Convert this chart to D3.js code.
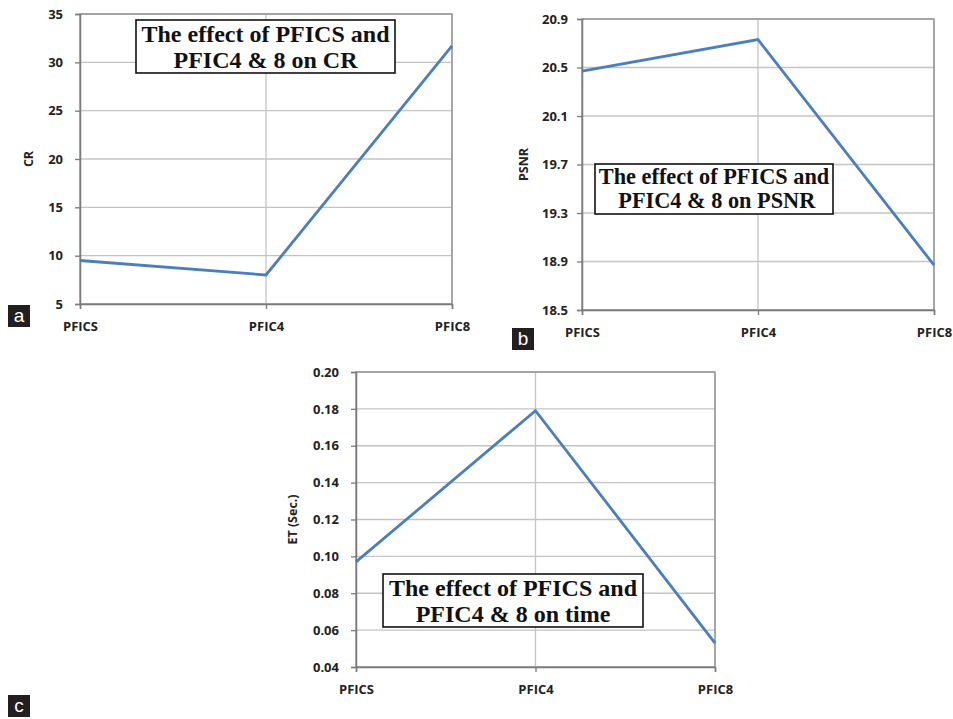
<!DOCTYPE html>
<html><head><meta charset="utf-8">
<script src="https://cdn.jsdelivr.net/npm/d3@7"></script>
<style>body{margin:0;background:#fff}svg{display:block}</style>
</head><body>
<script>
const categories = ["PFICS", "PFIC4", "PFIC8"];
const crValues = [9.5, 8.0, 31.7];
const psnrValues = [20.47, 20.73, 18.87];
const etValues = [0.097, 0.179, 0.053];
const crTicks = [5, 10, 15, 20, 25, 30, 35];
const psnrTicks = [18.5, 18.9, 19.3, 19.7, 20.1, 20.5, 20.9];
const etTicks = [0.04, 0.06, 0.08, 0.10, 0.12, 0.14, 0.16, 0.18, 0.20];
const crTitle = ["The effect of PFICS and", "PFIC4 & 8 on CR"];
const psnrTitle = ["The effect of PFICS and", " PFIC4 & 8 on PSNR"];
const etTitle = ["The effect of PFICS and", "PFIC4 & 8 on time"];

const W = 953, H = 719;
const svg = d3.select("body").append("svg").attr("width", W).attr("height", H);

function panel(o) {
  const g = svg.append("g");
  const x = d3.scalePoint().domain(categories).range([o.l, o.r]).padding(0);
  const y = d3.scaleLinear().domain([o.ticks[0], o.ticks[o.ticks.length - 1]]).range([o.b, o.t]);
  // grid
  g.selectAll(".hg").data(o.ticks).enter().append("line")
    .attr("x1", o.l).attr("x2", o.r).attr("y1", d => y(d)).attr("y2", d => y(d))
    .attr("stroke", "#c4c4c4").attr("stroke-width", 1.3);
  g.selectAll(".vg").data(categories.slice(1)).enter().append("line")
    .attr("x1", d => x(d)).attr("x2", d => x(d)).attr("y1", o.t).attr("y2", o.b)
    .attr("stroke", "#c4c4c4").attr("stroke-width", 1.3);
  g.append("rect").attr("x", o.l).attr("y", o.t).attr("width", o.r - o.l).attr("height", o.b - o.t)
    .attr("fill", "none").attr("stroke", "#8c8c8c").attr("stroke-width", 1.3);
  // axes
  const ya = d3.axisLeft(y).tickValues(o.ticks).tickFormat(o.fmt).tickSize(5).tickPadding(o.tp);
  const yg = g.append("g").attr("transform", `translate(${o.l},0)`).call(ya);
  const xa = d3.axisBottom(x).tickSize(5).tickPadding(13);
  const xg = g.append("g").attr("transform", `translate(0,${o.b})`).call(xa);
  [yg, xg].forEach(a => {
    a.select(".domain").attr("stroke", "#7a7a7a").attr("stroke-width", 1.5);
    a.selectAll(".tick line").attr("stroke", "#7a7a7a").attr("stroke-width", 1.3);
    a.selectAll("text").attr("font-family", "'Open Sans', sans-serif").attr("font-weight", "bold")
      .attr("font-size", 13).attr("fill", "#222");
  });
  g.append("text").attr("transform", `translate(${o.ylx},${(o.t + o.b) / 2}) rotate(-90)`)
    .attr("text-anchor", "middle").attr("font-family", "'Open Sans', sans-serif").attr("font-weight", "bold")
    .attr("font-size", 12.5).attr("fill", "#222").text(o.ylabel);
  // line
  const line = d3.line().x((d, i) => x(categories[i])).y(d => y(d));
  g.append("path").datum(o.values).attr("d", line).attr("fill", "none")
    .attr("stroke", "#4a7ebf").attr("stroke-width", 2.8);
  // title box
  const bx = o.box;
  g.append("rect").attr("x", bx[0]).attr("y", bx[1]).attr("width", bx[2] - bx[0]).attr("height", bx[3] - bx[1])
    .attr("fill", "#fff").attr("stroke", "#111").attr("stroke-width", 1.6);
  const cx = (bx[0] + bx[2]) / 2;
  o.title.forEach((t, i) => {
    g.append("text").attr("x", cx).attr("y", bx[1] + o.ty[i]).attr("text-anchor", "middle")
      .attr("font-family", "'Liberation Serif', serif").attr("font-weight", "bold")
      .attr("font-size", o.fs).attr("fill", "#111").attr("xml:space", "preserve").text(t);
  });
  // badge
  svg.append("rect").attr("x", o.badge[0]).attr("y", o.badge[1]).attr("width", 22).attr("height", 22).attr("fill", "#231f20");
  svg.append("text").attr("x", o.badge[0] + 11).attr("y", o.badge[1] + 17).attr("text-anchor", "middle")
    .attr("font-family", "'Liberation Sans', sans-serif").attr("font-size", 19).attr("fill", "#fff").text(o.letter);
}

panel({l: 80, r: 452, t: 14, b: 304, ticks: crTicks, fmt: d3.format("d"), values: crValues, tp: 12,
  ylabel: "CR", ylx: 33, box: [136, 20, 395, 73], title: crTitle, fs: 24, ty: [22, 48], badge: [8, 305], letter: "a"});
panel({l: 582, r: 934, t: 19, b: 310, ticks: psnrTicks, fmt: d3.format(".1f"), values: psnrValues, tp: 9,
  ylabel: "PSNR", ylx: 528, box: [595, 164, 833, 214], title: psnrTitle, fs: 22.3, ty: [20, 44], badge: [512, 328], letter: "b"});
panel({l: 356, r: 715, t: 372, b: 667, ticks: etTicks, fmt: d3.format(".2f"), values: etValues, tp: 12,
  ylabel: "ET (Sec.)", ylx: 297, box: [383, 574, 643, 627], title: etTitle, fs: 24, ty: [22, 48], badge: [8, 695], letter: "c"});
</script>
</body></html>
